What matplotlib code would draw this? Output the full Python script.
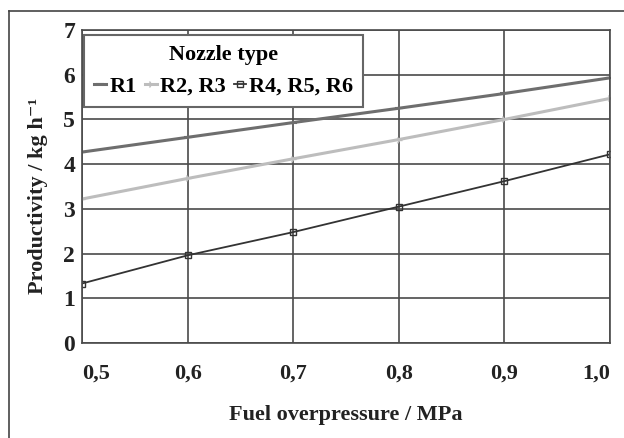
import matplotlib.pyplot as plt
from matplotlib.lines import Line2D

pressure = [0.5, 0.6, 0.7, 0.8, 0.9, 1.0]
r1 = [4.27, 4.6, 4.93, 5.25, 5.58, 5.93]
r2_r3 = [3.22, 3.68, 4.12, 4.55, 5.0, 5.47]
r4_r6 = [1.33, 1.96, 2.48, 3.05, 3.62, 4.22]
x_ticks = [0.5, 0.6, 0.7, 0.8, 0.9, 1.0]
x_labels = ['0,5', '0,6', '0,7', '0,8', '0,9', '1,0']
labels = ['R1', 'R2, R3', 'R4, R5, R6']

plt.rcParams['font.family'] = ['Liberation Serif', 'DejaVu Serif']
plt.rcParams['font.weight'] = 'bold'

fig = plt.figure(figsize=(6.24, 4.38), dpi=100)
ax = fig.add_axes([0.1314, 0.2169, 0.8462, 0.7146])

# outer frame (top and left only)
fig.add_artist(Line2D([9 / 624, 1], [1 - 11 / 438, 1 - 11 / 438], color='#444444', lw=1.2))
fig.add_artist(Line2D([9 / 624, 9 / 624], [0, 1 - 11 / 438], color='#444444', lw=1.2))

ax.plot(pressure, r1, color='#6e6e6e', lw=2.2, marker='_', ms=6, mew=1.5, label=labels[0])
ax.plot(pressure, r2_r3, color='#bdbdbd', lw=2.2, marker='4', ms=5, mew=1, label=labels[1])
ax.plot(pressure, r4_r6, color='#333333', lw=1.3, marker='s', ms=5, mfc='none', mew=1, label=labels[2])

ax.set_xlim(0.5, 1.0)
ax.set_ylim(0, 7)
ax.set_xticks(x_ticks)
ax.set_xticklabels(x_labels)
ax.set_yticks(range(8))
ax.grid(True, color='#4a4a4a', lw=1.2)
ax.set_axisbelow(True)
for s in ax.spines.values():
    s.set_color('#4a4a4a')
    s.set_linewidth(1.2)
ax.tick_params(length=0, colors='#222222')
ax.tick_params(axis='x', labelsize=16, pad=15)
ax.tick_params(axis='y', labelsize=17, pad=5)
xt = ax.get_xticklabels()
xt[0].set_horizontalalignment('left')
xt[-1].set_horizontalalignment('right')

ax.set_xlabel('Fuel overpressure / MPa', fontsize=16, fontweight='bold', color='#222222', labelpad=15)
ax.set_ylabel('Productivity / kg h\u207b\u00b9', fontsize=16, fontweight='bold', color='#222222', labelpad=5)
ax.yaxis.set_label_coords(-0.065, 0.47)

leg = ax.legend(title='Nozzle type', ncol=3, loc='upper left', bbox_to_anchor=(0.004, 0.984),
                fancybox=False, framealpha=1, edgecolor='#666666', handlelength=0.55,
                handletextpad=0.15, columnspacing=0.35, borderpad=0.45,
                prop={'size': 16, 'weight': 'bold'}, borderaxespad=0)
leg.get_title().set_fontsize(16)
leg.get_title().set_fontweight('bold')
leg.get_frame().set_linewidth(1.5)

fig.savefig('out.png', dpi=100)
